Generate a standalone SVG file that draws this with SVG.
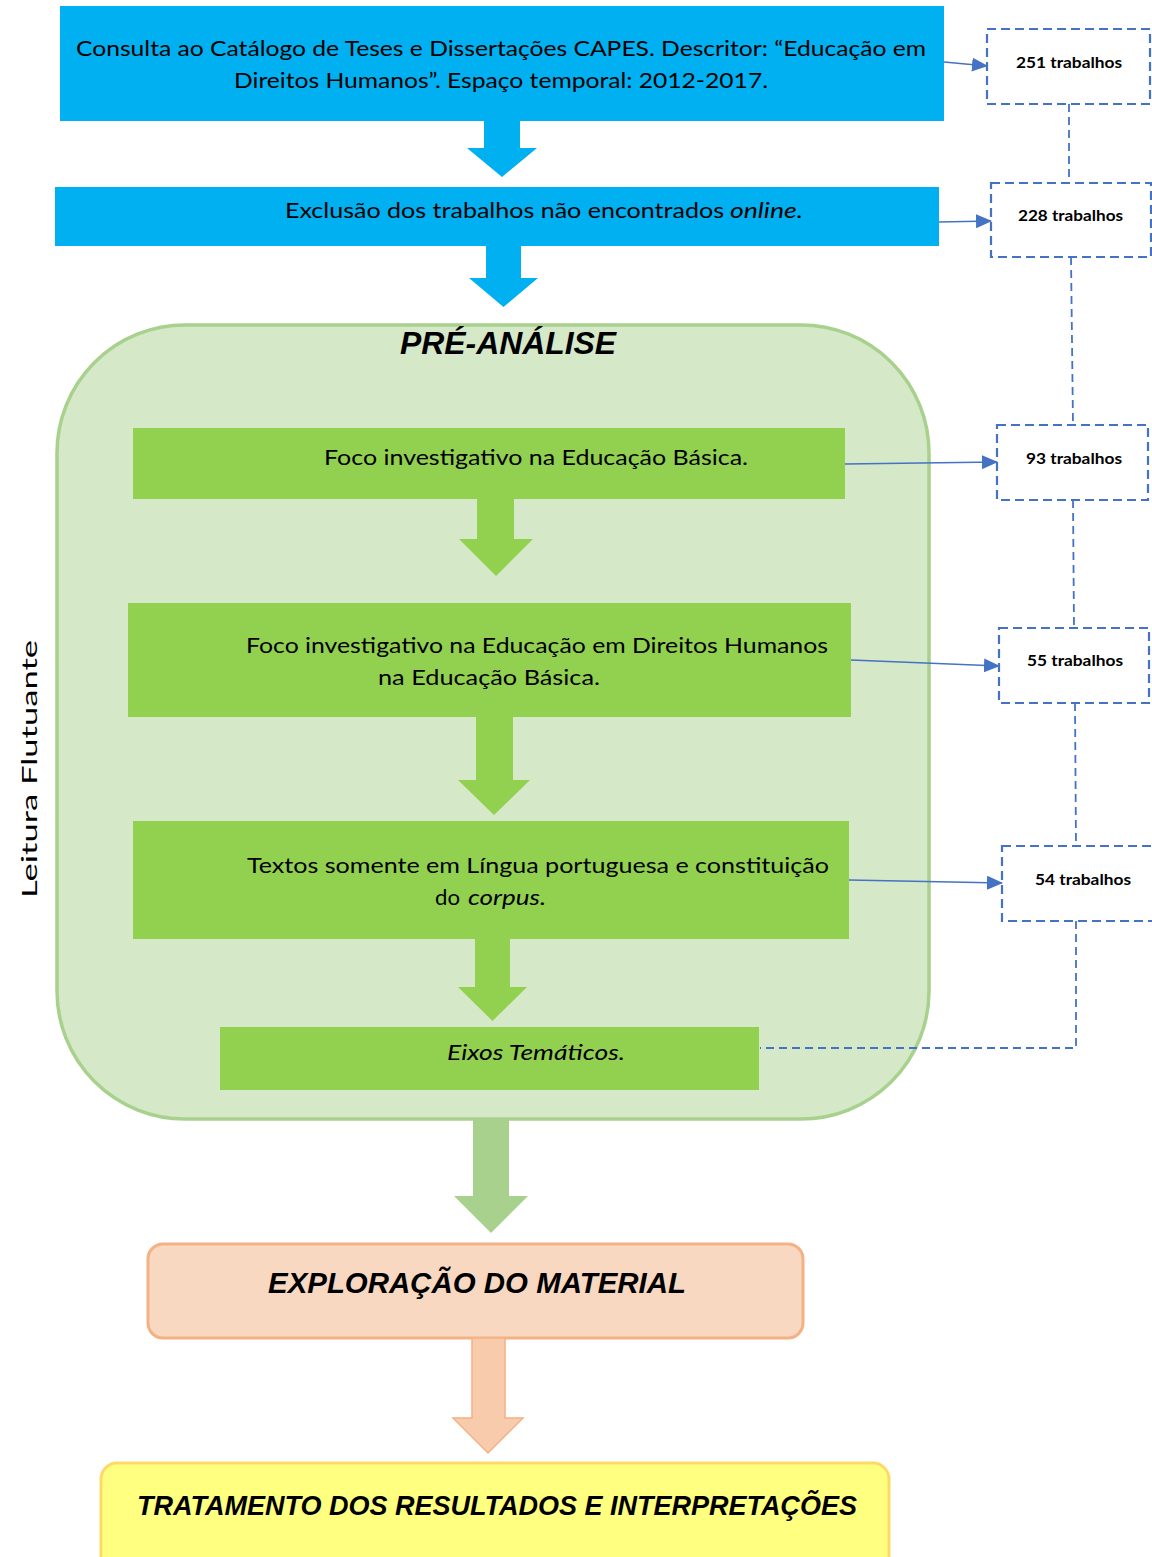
<svg xmlns="http://www.w3.org/2000/svg" width="1152" height="1557" viewBox="0 0 1152 1557">
<style>
.t{font-family:Lato,"Open Sans","Liberation Sans",sans-serif;font-size:22px;fill:#000}
.it{font-style:italic}
.lbl{font-family:Lato,"Liberation Sans",sans-serif;font-size:15.5px;font-weight:bold;fill:#000}
.hd{font-family:"Liberation Sans",Arial,sans-serif;font-weight:bold;font-style:italic;fill:#000}
.blue{fill:#00B0F0}
.grn{fill:#92D050}
.dash{fill:#fff;stroke:#4472C4;stroke-width:2.2;stroke-dasharray:9 5}
.dl{fill:none;stroke:#4472C4;stroke-width:1.8;stroke-dasharray:8 5}
.al{fill:none;stroke:#4472C4;stroke-width:1.3;marker-end:url(#ah)}
</style>
<defs>
<marker id="ah" markerUnits="userSpaceOnUse" markerWidth="16" markerHeight="14" refX="15" refY="7" orient="auto">
<path d="M0,0 L16,7 L0,14 Z" fill="#4472C4"/>
</marker>
</defs>
<rect width="1152" height="1557" fill="#fff"/>

<g id="pre-analise">
<rect x="57" y="325" width="872" height="794" rx="128" ry="128" fill="#D5E8C8" stroke="#A9D18E" stroke-width="3.5"/>
<text class="hd" x="400" y="354" font-size="31" textLength="216" lengthAdjust="spacingAndGlyphs">PRÉ-ANÁLISE</text>
</g>

<g id="leitura">
<text class="t" transform="translate(37,898) rotate(-90)" font-size="33" textLength="258" lengthAdjust="spacingAndGlyphs">Leitura Flutuante</text>
</g>

<g id="consulta">
<rect class="blue" x="60" y="6" width="884" height="115"/>
<text class="t" x="76" y="56" textLength="850" lengthAdjust="spacingAndGlyphs">Consulta ao Catálogo de Teses e Dissertações CAPES. Descritor: “Educação em</text>
<text class="t" x="234" y="88" textLength="534" lengthAdjust="spacingAndGlyphs">Direitos Humanos”. Espaço temporal: 2012-2017.</text>
</g>

<g id="exclusao">
<rect class="blue" x="55" y="187" width="884" height="59"/>
<text class="t" x="285" y="218" textLength="439" lengthAdjust="spacingAndGlyphs">Exclusão dos trabalhos não encontrados</text>
<text class="t it" x="730" y="218" textLength="73" lengthAdjust="spacingAndGlyphs">online.</text>
</g>

<g id="foco-basica">
<rect class="grn" x="133" y="428" width="712" height="71"/>
<text class="t" x="324" y="465" textLength="424" lengthAdjust="spacingAndGlyphs">Foco investigativo na Educação Básica.</text>
</g>

<g id="foco-edh">
<rect class="grn" x="128" y="603" width="723" height="114"/>
<text class="t" x="246" y="653" textLength="582" lengthAdjust="spacingAndGlyphs">Foco investigativo na Educação em Direitos Humanos</text>
<text class="t" x="378" y="685" textLength="222" lengthAdjust="spacingAndGlyphs">na Educação Básica.</text>
</g>

<g id="textos">
<rect class="grn" x="133" y="821" width="716" height="118"/>
<text class="t" x="247" y="873" textLength="582" lengthAdjust="spacingAndGlyphs">Textos somente em Língua portuguesa e constituição</text>
<text class="t" x="435" y="905" textLength="25" lengthAdjust="spacingAndGlyphs">do</text>
<text class="t it" x="468" y="905" textLength="78" lengthAdjust="spacingAndGlyphs">corpus.</text>
</g>

<g id="eixos">
<rect class="grn" x="220" y="1027" width="539" height="63"/>
<text class="t it" x="447" y="1060" textLength="178" lengthAdjust="spacingAndGlyphs">Eixos Temáticos.</text>
</g>

<g id="exploracao">
<rect x="148" y="1244" width="655" height="94" rx="15" ry="15" fill="#F8D8C0" stroke="#F4B183" stroke-width="3"/>
<text class="hd" x="268" y="1293" font-size="29" textLength="418" lengthAdjust="spacingAndGlyphs">EXPLORAÇÃO DO MATERIAL</text>
</g>

<g id="tratamento">
<rect x="101" y="1463" width="788" height="110" rx="16" ry="16" fill="#FFFF80" stroke="#FFD966" stroke-width="3"/>
<text class="hd" x="137" y="1515" font-size="28" textLength="720" lengthAdjust="spacingAndGlyphs">TRATAMENTO DOS RESULTADOS E INTERPRETAÇÕES</text>
</g>

<g id="n251">
<rect class="dash" x="987" y="29" width="163" height="75"/>
<text class="lbl" x="1016" y="68" textLength="106" lengthAdjust="spacingAndGlyphs">251 trabalhos</text>
</g>
<g id="n228">
<rect class="dash" x="991" y="183" width="160" height="74"/>
<text class="lbl" x="1018" y="221" textLength="105" lengthAdjust="spacingAndGlyphs">228 trabalhos</text>
</g>
<g id="n93">
<rect class="dash" x="997" y="425" width="151" height="75"/>
<text class="lbl" x="1026" y="464" textLength="96" lengthAdjust="spacingAndGlyphs">93 trabalhos</text>
</g>
<g id="n55">
<rect class="dash" x="999" y="628" width="150" height="75"/>
<text class="lbl" x="1027" y="666" textLength="96" lengthAdjust="spacingAndGlyphs">55 trabalhos</text>
</g>
<g id="n54">
<rect class="dash" x="1002" y="846" width="152" height="75"/>
<text class="lbl" x="1035" y="885" textLength="96" lengthAdjust="spacingAndGlyphs">54 trabalhos</text>
</g>

<g id="connectors">
<polygon class="blue" points="484,121 520,121 520,148 537,148 502,177 467,148 484,148"/>
<polygon class="blue" points="486,246 521,246 521,278 538,278 503.5,307 469,278 486,278"/>
<polygon class="grn" points="477,499 514,499 514,539 533,539 496,576 459,539 477,539"/>
<polygon class="grn" points="476,717 513,717 513,780 530,780 494,815 458,780 476,780"/>
<polygon class="grn" points="475,939 510,939 510,987 527,987 492.5,1021 458,987 475,987"/>
<polygon fill="#A9D18E" points="473,1119 509,1119 509,1196 528,1196 491,1233 454,1196 473,1196"/>
<polygon fill="#F8CBAD" stroke="#F4B183" stroke-width="1.5" points="472,1338 505,1338 505,1418 523,1418 488,1453 453,1418 472,1418"/>

<path class="dl" d="M1069,104 L1069,183"/>
<path class="dl" d="M1071,257 L1073,425"/>
<path class="dl" d="M1073,500 L1074,628"/>
<path class="dl" d="M1075,703 L1076,846"/>
<path class="dl" d="M1076,921 L1076,1048 L760,1048"/>

<line class="al" x1="944" y1="62" x2="987" y2="66"/>
<line class="al" x1="939" y1="222" x2="991" y2="221"/>
<line class="al" x1="845" y1="464" x2="997" y2="462"/>
<line class="al" x1="851" y1="660" x2="999" y2="666"/>
<line class="al" x1="849" y1="880" x2="1002" y2="883"/>
</g>
</svg>
